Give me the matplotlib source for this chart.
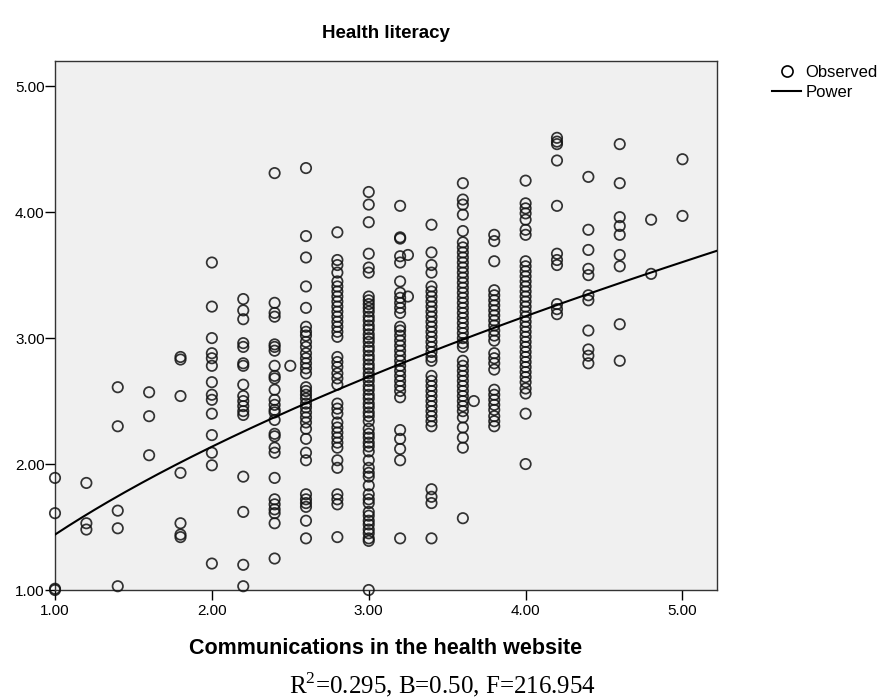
import matplotlib
matplotlib.use("Agg")
import matplotlib.pyplot as plt
import numpy as np
from matplotlib.lines import Line2D

# ---- data ----
col_x = [1.0, 1.2, 1.4, 1.6, 1.8, 2.0, 2.2, 2.4, 2.5, 2.6, 2.8, 3.0, 3.2, 3.25,
         3.4, 3.6, 3.67, 3.8, 4.0, 4.2, 4.4, 4.6, 4.8, 5.0]

y_1_0 = [1.89, 1.61, 1.01, 1.00]
y_1_2 = [1.85, 1.53, 1.48]
y_1_4 = [2.61, 2.30, 1.63, 1.49, 1.03]
y_1_6 = [2.57, 2.38, 2.07]
y_1_8 = [2.85, 2.83, 2.54, 1.93, 1.53, 1.44, 1.42]
y_2_0 = [3.60, 3.25, 3.00, 2.88, 2.84, 2.78, 2.65, 2.55, 2.51, 2.40, 2.23, 2.09,
         1.99, 1.21]
y_2_2 = [3.31, 3.22, 3.15, 2.96, 2.93, 2.80, 2.78, 2.63, 2.54, 2.50, 2.46, 2.42,
         2.39, 1.90, 1.62, 1.20, 1.03]
y_2_4 = [4.31, 3.28, 3.20, 3.17, 2.95, 2.93, 2.90, 2.78, 2.70, 2.68, 2.59, 2.51,
         2.47, 2.43, 2.41, 2.35, 2.24, 2.22, 2.13, 2.09, 1.89, 1.72, 1.68, 1.64,
         1.61, 1.53, 1.25]
y_2_5 = [2.78]
y_2_6 = [4.35, 3.81, 3.64, 3.41, 3.24, 3.09, 3.05, 3.02, 2.97, 2.93, 2.88, 2.84,
         2.80, 2.76, 2.72, 2.61, 2.58, 2.55, 2.52, 2.48, 2.45, 2.41, 2.37, 2.33,
         2.28, 2.20, 2.09, 2.03, 1.76, 1.72, 1.69, 1.66, 1.55, 1.41]
y_2_8 = [3.84, 3.62, 3.58, 3.52, 3.45, 3.41, 3.37, 3.33, 3.29, 3.25, 3.21, 3.17,
         3.13, 3.09, 3.05, 3.01, 2.85, 2.81, 2.77, 2.72, 2.68, 2.63, 2.48, 2.44,
         2.40, 2.33, 2.29, 2.25, 2.21, 2.17, 2.13, 2.03, 1.97, 1.76, 1.72, 1.68,
         1.42]
y_3_0 = [4.16, 4.06, 3.92, 3.67, 3.56, 3.52, 3.33, 3.30, 3.27, 3.24, 3.21, 3.17,
         3.14, 3.10, 3.07, 3.03, 3.00, 2.97, 2.93, 2.90, 2.86, 2.83, 2.79, 2.76,
         2.72, 2.69, 2.66, 2.62, 2.59, 2.55, 2.52, 2.48, 2.45, 2.41, 2.38, 2.34,
         2.28, 2.24, 2.21, 2.17, 2.14, 2.10, 2.03, 1.97, 1.93, 1.90, 1.83, 1.76,
         1.72, 1.69, 1.62, 1.59, 1.55, 1.52, 1.48, 1.45, 1.41, 1.39, 1.00]
y_3_2 = [4.05, 3.80, 3.79, 3.65, 3.60, 3.45, 3.36, 3.32, 3.28, 3.24, 3.20, 3.09,
         3.06, 3.02, 2.98, 2.94, 2.90, 2.86, 2.82, 2.78, 2.74, 2.70, 2.66, 2.62,
         2.58, 2.53, 2.27, 2.20, 2.12, 2.03, 1.41]
y_3_25 = [3.66, 3.33]
y_3_4 = [3.90, 3.68, 3.58, 3.52, 3.41, 3.37, 3.33, 3.29, 3.25, 3.21, 3.17, 3.13,
         3.09, 3.05, 3.01, 2.97, 2.93, 2.89, 2.85, 2.82, 2.70, 2.66, 2.62, 2.58,
         2.54, 2.50, 2.46, 2.42, 2.38, 2.34, 2.30, 1.80, 1.74, 1.69, 1.41]
y_3_67 = [2.50]
y_3_6 = [4.23, 4.10, 4.06, 3.98, 3.85, 3.76, 3.72, 3.68, 3.64, 3.60, 3.56, 3.52,
         3.48, 3.44, 3.40, 3.36, 3.32, 3.28, 3.24, 3.20, 3.16, 3.12, 3.08, 3.04,
         3.00, 2.96, 2.93, 2.82, 2.78, 2.74, 2.70, 2.66, 2.62, 2.58, 2.54, 2.50,
         2.46, 2.42, 2.37, 2.29, 2.21, 2.13, 1.57]
y_3_8 = [3.82, 3.77, 3.61, 3.38, 3.34, 3.30, 3.26, 3.22, 3.18, 3.14, 3.10, 3.06,
         3.02, 2.98, 2.88, 2.84, 2.80, 2.75, 2.59, 2.55, 2.51, 2.47, 2.43, 2.38,
         2.34, 2.30]
y_4_0 = [4.25, 4.07, 4.03, 3.99, 3.94, 3.86, 3.82, 3.61, 3.57, 3.53, 3.49, 3.45,
         3.41, 3.37, 3.33, 3.29, 3.25, 3.21, 3.17, 3.13, 3.09, 3.05, 3.01, 2.97,
         2.93, 2.89, 2.85, 2.81, 2.77, 2.73, 2.69, 2.65, 2.60, 2.56, 2.40, 2.00]
y_4_2 = [4.59, 4.56, 4.54, 4.41, 4.05, 3.67, 3.62, 3.58, 3.27, 3.23, 3.19]
y_4_4 = [4.28, 3.86, 3.70, 3.55, 3.50, 3.34, 3.30, 3.06, 2.91, 2.86, 2.80]
y_4_6 = [4.54, 4.23, 3.96, 3.89, 3.82, 3.66, 3.57, 3.11, 2.82]
y_4_8 = [3.94, 3.51]
y_5_0 = [4.42, 3.97]

col_y = [y_1_0, y_1_2, y_1_4, y_1_6, y_1_8, y_2_0, y_2_2, y_2_4, y_2_5, y_2_6,
         y_2_8, y_3_0, y_3_2, y_3_25, y_3_4, y_3_6, y_3_67, y_3_8, y_4_0, y_4_2,
         y_4_4, y_4_6, y_4_8, y_5_0]

# fitted power model  y = a * x^b
power_a = 1.44
power_b = 0.57

x_ticks = [1.0, 2.0, 3.0, 4.0, 5.0]
y_ticks = [1.0, 2.0, 3.0, 4.0, 5.0]

title = "Health literacy"
xlabel = "Communications in the health website"
caption = "R$^2$=0.295, B=0.50, F=216.954"

# ---- figure ----
plt.rcParams['font.family'] = ['Liberation Sans', 'DejaVu Sans']
plt.rcParams['mathtext.fontset'] = 'custom'
plt.rcParams['mathtext.rm'] = 'Liberation Serif'
fig = plt.figure(figsize=(8.82, 7.0), dpi=100)
ax = fig.add_axes([55/882, 1 - 590/700, (717-55)/882, (590-61)/700])
ax.set_facecolor('#f0f0f0')

xs = np.concatenate([[cx] * len(cy) for cx, cy in zip(col_x, col_y)])
ys = np.concatenate(col_y)
ax.scatter(xs, ys, s=56, facecolors='none', edgecolors='#111111',
           linewidths=1.25, alpha=0.85, zorder=3, clip_on=False)

xc = np.linspace(1.0, 5.22, 200)
ax.plot(xc, power_a * xc ** power_b, color='black', lw=1.5, zorder=4)

ax.set_xlim(1.0, 5.22)
ax.set_ylim(1.0, 5.2)
ax.set_xticks(x_ticks)
ax.set_yticks(y_ticks)
ax.set_xticklabels([f"{v:.2f}" for v in x_ticks])
ax.set_yticklabels([f"{v:.2f}" for v in y_ticks])
ax.tick_params(direction='out', length=7, width=1, labelsize=11, colors='black')
ax.tick_params(axis='y', pad=0.5)
ax.tick_params(axis='x', pad=3)
for sp in ax.spines.values():
    sp.set_linewidth(1.0)
    sp.set_color('#333333')

fig.text(386/882, 1 - 33/700, title, ha='center', va='center',
         fontsize=13.5, fontweight='bold')
fig.text(386/882, 1 - 648/700, xlabel, ha='center', va='center',
         fontsize=15.5, fontweight='bold')
fig.text(443/882, 1 - 685/700, caption, ha='center', va='center',
         fontsize=18, family=['Liberation Serif', 'DejaVu Serif'])

handles = [Line2D([], [], marker='o', ls='none', markerfacecolor='none',
                  markeredgecolor='black', markersize=8, markeredgewidth=1.2),
           Line2D([], [], color='black', lw=1.5)]
fig.legend(handles, ['Observed', 'Power'], loc='upper left',
           bbox_to_anchor=(772/882, 1 - 65/700), frameon=False, fontsize=12,
           handlelength=1.75, handletextpad=0.25, labelspacing=0.3,
           borderpad=0.0, borderaxespad=0.0)

fig.savefig('out.png', dpi=100)
